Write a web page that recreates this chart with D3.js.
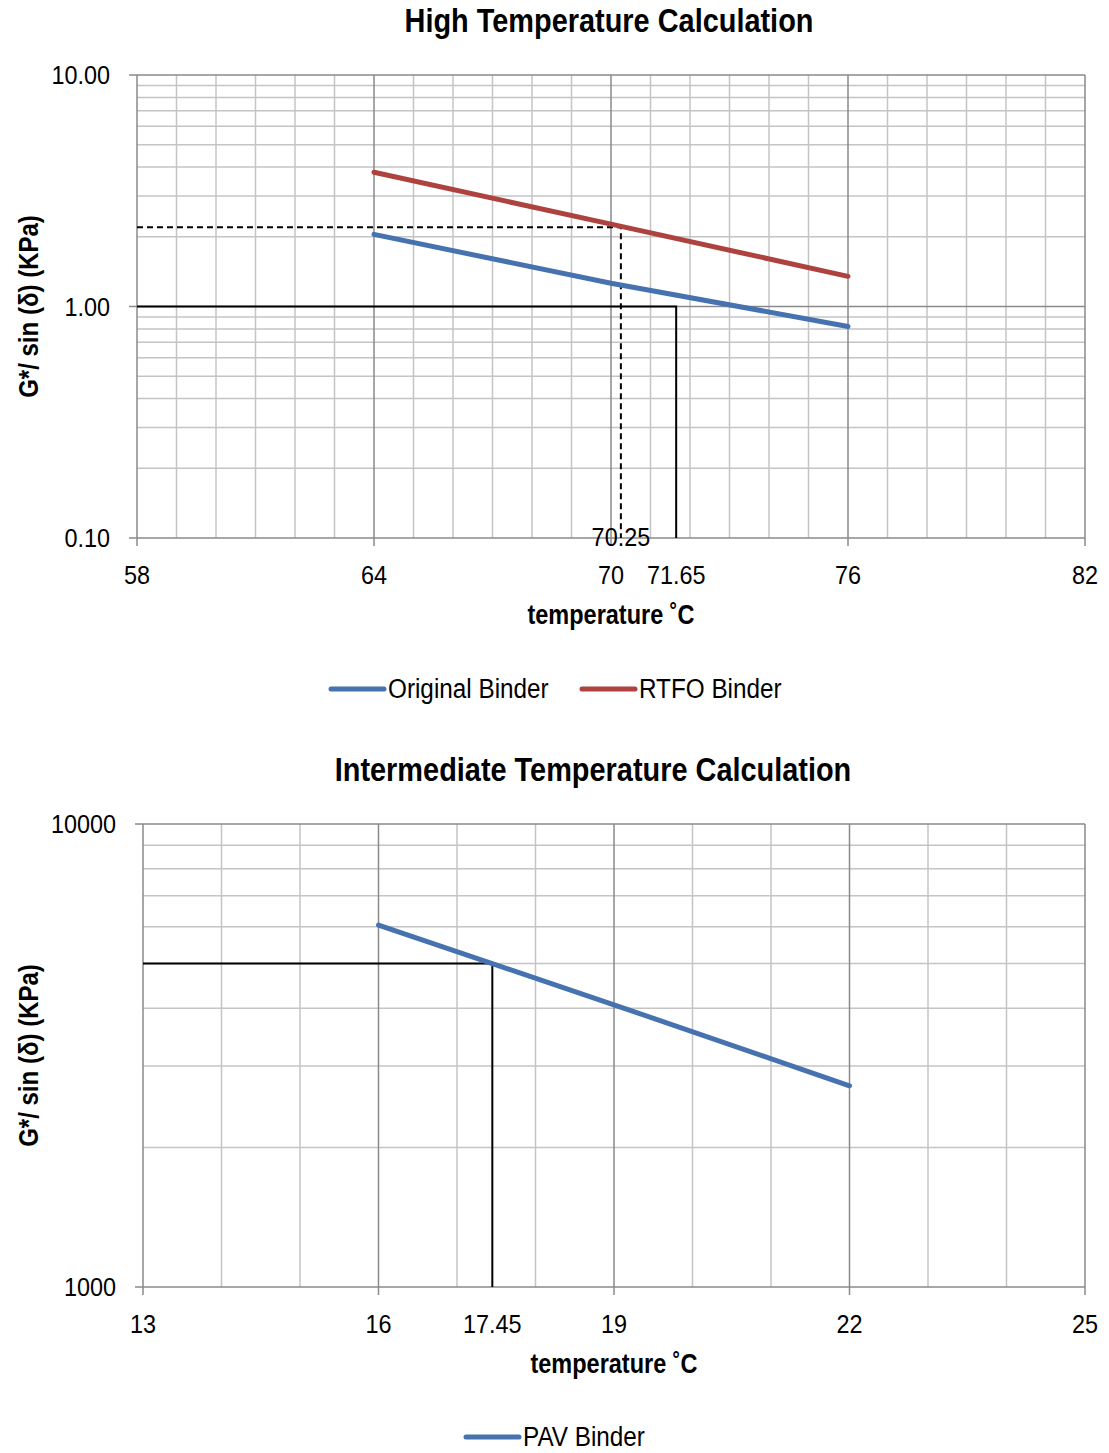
<!DOCTYPE html>
<html>
<head>
<meta charset="utf-8">
<script src="https://cdn.jsdelivr.net/npm/d3@7"></script>
<style>
  body { margin: 0; background: #fff; }
  svg text { font-family: "Liberation Sans", Arial, sans-serif; fill: #000; }
</style>
</head>
<body>
<div id="main"></div>
<script>
// ---- data ----
const highTemps = [64, 70, 76];
const originalBinder = [2.05, 1.26, 0.82];
const rtfoBinder = [3.80, 2.27, 1.35];
const highXTicks = [58, 64, 70, 76, 82];
const highYTicks = [0.1, 1, 10];

const interTemps = [16, 19, 22];
const pavBinder = [6050, 4070, 2720];
const interXTicks = [13, 16, 19, 22, 25];
const interYTicks = [1000, 10000];

// critical temperature markers: [temperature, G*/sin(d)]
const rtfoCritical = [70.25, 2.2];
const originalCritical = [71.65, 1.0];
const pavCritical = [17.45, 5000];

const chartCtx = {
    WIDTH: 1109,
    HEIGHT: 1453,
    MAJOR_GRID: "#8a8a8a",
    MINOR_GRID: "#c4c4c4",
    BLUE: "#4672b0",
    RED: "#ae423e"
};

const svg = d3.select("#main").append("svg")
    .attr("width", chartCtx.WIDTH)
    .attr("height", chartCtx.HEIGHT);

// narrow text: no condensed font installed, so squeeze horizontally
function addText(g, x, y, str, o) {
    let t = `translate(${x},${y})` + (o.rotate ? ` rotate(${o.rotate})` : "") + ` scale(${o.sx || 1},1)`;
    return g.append("text")
        .attr("transform", t)
        .attr("text-anchor", o.anchor || "middle")
        .attr("dy", o.dy || null)
        .attr("font-size", o.size)
        .attr("font-weight", o.bold ? "bold" : null)
        .text(str);
}

function drawChart(cfg) {
    const g = svg.append("g");
    const x = d3.scaleLinear().domain(cfg.xDomain).range([cfg.left, cfg.left + cfg.width]);
    const y = d3.scaleLog().domain(cfg.yDomain).range([cfg.top + cfg.height, cfg.top]);
    const bottom = cfg.top + cfg.height;
    const right = cfg.left + cfg.width;

    // minor horizontal grid (2..9 per decade)
    let minorY = [];
    for (let dec = cfg.yDomain[0]; dec < cfg.yDomain[1]; dec *= 10) {
        for (let k = 2; k <= 9; k++) minorY.push(dec * k);
    }
    g.selectAll("line.minorY").data(minorY).enter().append("line")
        .attr("x1", cfg.left).attr("x2", right)
        .attr("y1", d => y(d)).attr("y2", d => y(d))
        .attr("stroke", chartCtx.MINOR_GRID).attr("stroke-width", 1.5);

    // minor vertical grid (every degree)
    const minorX = d3.range(cfg.xDomain[0] + 1, cfg.xDomain[1]).filter(v => !cfg.xTicks.includes(v));
    g.selectAll("line.minorX").data(minorX).enter().append("line")
        .attr("y1", cfg.top).attr("y2", bottom)
        .attr("x1", d => x(d)).attr("x2", d => x(d))
        .attr("stroke", chartCtx.MINOR_GRID).attr("stroke-width", 1.5);

    // major grid
    g.selectAll("line.majorY").data(cfg.yTicks).enter().append("line")
        .attr("x1", cfg.left - 8).attr("x2", right)
        .attr("y1", d => y(d)).attr("y2", d => y(d))
        .attr("stroke", chartCtx.MAJOR_GRID).attr("stroke-width", 1.5);
    g.selectAll("line.majorX").data(cfg.xTicks).enter().append("line")
        .attr("y1", cfg.top).attr("y2", bottom + 8)
        .attr("x1", d => x(d)).attr("x2", d => x(d))
        .attr("stroke", chartCtx.MAJOR_GRID).attr("stroke-width", 1.5);

    // tick labels
    cfg.yTicks.forEach(d => addText(g, cfg.left - 27, y(d), d3.format(cfg.yFormat)(d),
        { size: 26, sx: 0.9, anchor: "end", dy: "0.35em" }));
    cfg.xTicks.concat([cfg.extraX]).forEach(d => addText(g, x(d), bottom + 46, d,
        { size: 26, sx: 0.9 }));

    // critical markers
    cfg.markers.forEach(m => {
        g.append("path")
            .attr("d", `M${cfg.left},${y(m.pt[1])}H${x(m.pt[0])}V${bottom}`)
            .attr("fill", "none").attr("stroke", "#000").attr("stroke-width", 2)
            .attr("stroke-dasharray", m.dashed ? "6,4" : null);
    });

    // series
    const line = d3.line().x(d => x(d[0])).y(d => y(d[1]));
    cfg.series.forEach(s => {
        g.append("path")
            .datum(cfg.xs.map((t, i) => [t, s.values[i]]))
            .attr("d", line)
            .attr("fill", "none").attr("stroke", s.color)
            .attr("stroke-width", 5).attr("stroke-linecap", "round");
    });

    if (cfg.axisLabel) {
        addText(g, x(cfg.axisLabel[0]), bottom + 8, cfg.axisLabel[0], { size: 26, sx: 0.9 });
    }

    // titles
    addText(g, cfg.titleX, cfg.top - 43, cfg.title, { size: 34, sx: 0.85, bold: true });
    addText(g, x((cfg.xDomain[0] + cfg.xDomain[1]) / 2), bottom + 86, "temperature ˚C",
        { size: 27, sx: 0.87, bold: true });
    addText(g, 38, cfg.top + cfg.height / 2, "G*/ sin (δ) (KPa)",
        { size: 27, sx: 0.89, bold: true, rotate: -90 });

    // legend
    const lg = g.selectAll("g.legend").data(cfg.series).enter().append("g")
        .attr("transform", (d, i) => `translate(${cfg.legendX[i]},${cfg.legendY})`);
    lg.append("line").attr("x1", 0).attr("x2", 53).attr("y1", 0).attr("y2", 0)
        .attr("stroke", d => d.color).attr("stroke-width", 5).attr("stroke-linecap", "round");
    lg.each(function (d) {
        addText(d3.select(this), 57, 0, d.name, { size: 27, sx: 0.9, anchor: "start", dy: "0.35em" });
    });
}

drawChart({
    title: "High Temperature Calculation",
    titleX: 609,
    left: 137, width: 948, top: 75, height: 463,
    xDomain: [58, 82], yDomain: [0.1, 10],
    xTicks: highXTicks, yTicks: highYTicks, yFormat: ".2f",
    extraX: originalCritical[0],
    axisLabel: [rtfoCritical[0]],
    xs: highTemps,
    series: [
        { name: "Original Binder", values: originalBinder, color: chartCtx.BLUE },
        { name: "RTFO Binder", values: rtfoBinder, color: chartCtx.RED }
    ],
    markers: [
        { pt: rtfoCritical, dashed: true },
        { pt: originalCritical, dashed: false }
    ],
    legendX: [331, 582], legendY: 689
});

drawChart({
    title: "Intermediate Temperature Calculation",
    titleX: 593,
    left: 143, width: 942, top: 824, height: 463,
    xDomain: [13, 25], yDomain: [1000, 10000],
    xTicks: interXTicks, yTicks: interYTicks, yFormat: "d",
    extraX: pavCritical[0],
    axisLabel: null,
    xs: interTemps,
    series: [
        { name: "PAV Binder", values: pavBinder, color: chartCtx.BLUE }
    ],
    markers: [
        { pt: pavCritical, dashed: false }
    ],
    legendX: [466], legendY: 1437
});
</script>
</body>
</html>
